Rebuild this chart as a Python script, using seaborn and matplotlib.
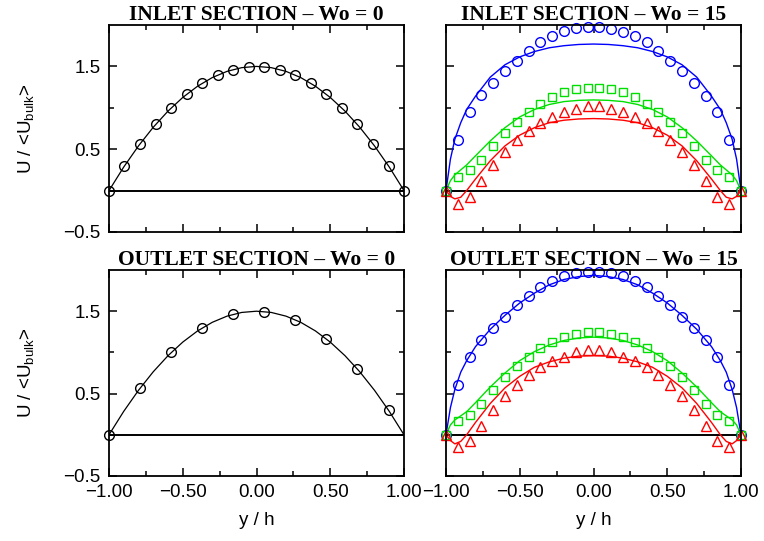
import matplotlib
matplotlib.use("Agg")
import matplotlib.pyplot as plt
import seaborn as sns
import pandas as pd
from matplotlib.ticker import FixedLocator

sns.set_style("ticks")
plt.rcParams["font.family"] = ["Liberation Sans", "DejaVu Sans"]
plt.rcParams["mathtext.fontset"] = "custom"
plt.rcParams["mathtext.rm"] = "Liberation Sans"
plt.rcParams["mathtext.it"] = "Liberation Sans:italic"
plt.rcParams["axes.unicode_minus"] = True
plt.rcParams["text.color"] = "black"
plt.rcParams["axes.labelcolor"] = "black"

# ---------------- data ----------------
titles = ["INLET SECTION \u2013 Wo = 0", "INLET SECTION \u2013 Wo = 15",
          "OUTLET SECTION \u2013 Wo = 0", "OUTLET SECTION \u2013 Wo = 15"]
xtick_vals = [-1.0, -0.5, 0.0, 0.5, 1.0]
xtick_labels = ["\u22121.00", "\u22120.50", "0.00", "0.50", "1.00"]
ytick_vals = [-0.5, 0.5, 1.5]
ytick_labels = ["\u22120.5", "0.5", "1.5"]

# Wo = 0
y_line0 = [-1.0, -0.9, -0.8, -0.7, -0.6, -0.5, -0.4, -0.3, -0.2, -0.1, 0.0,
           0.1, 0.2, 0.3, 0.4, 0.5, 0.6, 0.7, 0.8, 0.9, 1.0]
u_line0 = [0, 0.285, 0.54, 0.765, 0.96, 1.125, 1.26, 1.365, 1.44, 1.485, 1.5,
           1.485, 1.44, 1.365, 1.26, 1.125, 0.96, 0.765, 0.54, 0.285, 0]
y_in0 = [-1.0, -0.895, -0.789, -0.684, -0.579, -0.474, -0.368, -0.263, -0.158, -0.053,
         0.053, 0.158, 0.263, 0.368, 0.474, 0.579, 0.684, 0.789, 0.895, 1.0]
u_in0 = [0, 0.30, 0.565, 0.80, 1.0, 1.165, 1.295, 1.395, 1.46, 1.495,
         1.495, 1.46, 1.395, 1.295, 1.165, 1.0, 0.80, 0.565, 0.30, 0]
y_out0 = [-1.0, -0.789, -0.579, -0.368, -0.158, 0.053, 0.263, 0.474, 0.684, 0.895]
u_out0 = [0, 0.565, 1.0, 1.295, 1.46, 1.495, 1.395, 1.165, 0.80, 0.30]

# Wo = 15 : markers
y_pts15 = [-1.0, -0.92, -0.84, -0.76, -0.68, -0.6, -0.52, -0.44, -0.36, -0.28, -0.2, -0.12, -0.04,
           0.04, 0.12, 0.2, 0.28, 0.36, 0.44, 0.52, 0.6, 0.68, 0.76, 0.84, 0.92, 1.0]
in_blue_pts = [0, 0.61, 0.95, 1.15, 1.30, 1.445, 1.57, 1.69, 1.79, 1.865, 1.925, 1.96, 1.98,
               1.98, 1.955, 1.92, 1.865, 1.79, 1.69, 1.57, 1.445, 1.30, 1.14, 0.95, 0.61, 0]
in_green_pts = [0, 0.17, 0.245, 0.37, 0.54, 0.695, 0.83, 0.95, 1.05, 1.13, 1.19, 1.225, 1.245,
                1.245, 1.225, 1.19, 1.13, 1.05, 0.95, 0.83, 0.695, 0.54, 0.37, 0.245, 0.17, 0]
in_red_pts = [0, -0.16, -0.075, 0.12, 0.31, 0.47, 0.61, 0.72, 0.82, 0.89, 0.95, 0.99, 1.02,
              1.02, 0.99, 0.95, 0.89, 0.82, 0.72, 0.61, 0.47, 0.31, 0.12, -0.075, -0.16, 0]
out_blue_pts = [0, 0.61, 0.95, 1.15, 1.30, 1.435, 1.58, 1.69, 1.79, 1.865, 1.925, 1.96, 1.98,
                1.98, 1.965, 1.925, 1.865, 1.79, 1.69, 1.58, 1.435, 1.30, 1.15, 0.95, 0.61, 0]
out_green_pts = [0, 0.17, 0.245, 0.375, 0.545, 0.70, 0.835, 0.95, 1.05, 1.13, 1.185, 1.225, 1.25,
                 1.25, 1.225, 1.185, 1.13, 1.05, 0.95, 0.835, 0.70, 0.545, 0.375, 0.245, 0.17, 0]
out_red_pts = [0, -0.15, -0.08, 0.11, 0.305, 0.47, 0.61, 0.725, 0.825, 0.895, 0.95, 1.0, 1.025,
               1.025, 1.0, 0.95, 0.895, 0.825, 0.725, 0.61, 0.47, 0.305, 0.11, -0.08, -0.15, 0]

# Wo = 15 : lines
y_line15 = [-1.0, -0.97, -0.94, -0.9, -0.86, -0.8, -0.7, -0.6, -0.5, -0.4, -0.3, -0.2, -0.1, 0.0,
            0.1, 0.2, 0.3, 0.4, 0.5, 0.6, 0.7, 0.8, 0.86, 0.9, 0.94, 0.97, 1.0]
in_blue_line = [0, 0.38, 0.62, 0.82, 0.98, 1.14, 1.37, 1.52, 1.615, 1.68, 1.725, 1.75, 1.765, 1.77,
                1.765, 1.75, 1.725, 1.68, 1.615, 1.52, 1.37, 1.14, 0.98, 0.82, 0.62, 0.38, 0]
in_green_line = [0, 0.12, 0.19, 0.25, 0.31, 0.42, 0.60, 0.76, 0.89, 0.98, 1.04, 1.075, 1.09, 1.095,
                 1.09, 1.075, 1.04, 0.98, 0.89, 0.76, 0.60, 0.42, 0.31, 0.25, 0.19, 0.12, 0]
in_red_line = [0, -0.07, -0.10, -0.08, 0.0, 0.14, 0.36, 0.54, 0.67, 0.76, 0.82, 0.85, 0.865, 0.87,
               0.865, 0.85, 0.82, 0.76, 0.67, 0.54, 0.36, 0.14, 0.0, -0.08, -0.10, -0.07, 0]
out_blue_line = [0, 0.33, 0.55, 0.76, 0.90, 1.07, 1.28, 1.45, 1.60, 1.72, 1.82, 1.885, 1.92, 1.935,
                 1.92, 1.885, 1.82, 1.72, 1.60, 1.45, 1.28, 1.07, 0.90, 0.76, 0.55, 0.33, 0]
out_green_line = [0, 0.12, 0.18, 0.23, 0.28, 0.39, 0.58, 0.75, 0.90, 1.01, 1.09, 1.145, 1.175, 1.185,
                  1.175, 1.145, 1.09, 1.01, 0.90, 0.75, 0.58, 0.39, 0.28, 0.23, 0.18, 0.12, 0]
out_red_line = [0, -0.07, -0.11, -0.08, 0.0, 0.15, 0.38, 0.57, 0.71, 0.82, 0.885, 0.93, 0.955, 0.96,
                0.955, 0.93, 0.885, 0.82, 0.71, 0.57, 0.38, 0.15, 0.0, -0.08, -0.11, -0.07, 0]

BLUE, GREEN, RED = "#0000ff", "#00e000", "#ff0000"

# ---------------- figure ----------------
fig = plt.figure(figsize=(7.64, 5.41), dpi=100)
W, H = 764, 541
def rect(x0, y0, x1, y1):
    return [x0 / W, 1 - y1 / H, (x1 - x0) / W, (y1 - y0) / H]

ax_tl = fig.add_axes(rect(109, 25, 404, 232))
ax_tr = fig.add_axes(rect(446, 25, 741, 232))
ax_bl = fig.add_axes(rect(109, 270, 404, 476))
ax_br = fig.add_axes(rect(446, 270, 741, 476))


def line(ax, x, y, color, lw=1.0):
    sns.lineplot(x=x, y=y, ax=ax, color=color, lw=lw, sort=False, estimator=None)


def pts(ax, x, y, color, marker, ms):
    sns.lineplot(x=x, y=y, ax=ax, color=color, linestyle="none", marker=marker,
                 markersize=ms, markerfacecolor="none", markeredgecolor=color,
                 markeredgewidth=1.0, sort=False, estimator=None, clip_on=False)


def style(ax, title, xlabels, ylabels):
    ax.axhline(0, color="black", lw=1.4, zorder=1)
    ax.set_xlim(-1.0, 1.0)
    ax.set_ylim(-0.5, 2.0)
    ax.xaxis.set_major_locator(FixedLocator(xtick_vals))
    ax.xaxis.set_minor_locator(FixedLocator([-0.75, -0.25, 0.25, 0.75]))
    ax.yaxis.set_major_locator(FixedLocator(ytick_vals))
    ax.yaxis.set_minor_locator(FixedLocator([0.0, 1.0]))
    ax.set_xticklabels(xtick_labels if xlabels else [])
    ax.set_yticklabels(ytick_labels if ylabels else [])
    ax.tick_params(which="both", direction="in", top=True, right=True, colors="black",
                   labelcolor="black", labelsize=13.5, width=1.1)
    ax.tick_params(which="major", length=6, pad=6)
    ax.tick_params(which="minor", length=3.5)
    for s in ax.spines.values():
        s.set_visible(True)
        s.set_color("black")
        s.set_linewidth(1.3)
    ax.set_title(title, family="Liberation Serif", fontweight="bold", fontsize=15.5,
                 pad=3, color="black")
    ax.set_xlabel("")
    ax.set_ylabel("")


# Wo = 0 panels
line(ax_tl, y_line0, u_line0, "black", lw=0.9)
pts(ax_tl, y_in0, u_in0, "black", "o", 7)
line(ax_bl, y_line0, u_line0, "black", lw=0.9)
pts(ax_bl, y_out0, u_out0, "black", "o", 7)

# Wo = 15 panels
for ax, lines_, pts_ in [
    (ax_tr, (in_blue_line, in_green_line, in_red_line), (in_blue_pts, in_green_pts, in_red_pts)),
    (ax_br, (out_blue_line, out_green_line, out_red_line), (out_blue_pts, out_green_pts, out_red_pts)),
]:
    for yl, c in zip(lines_, (BLUE, GREEN, RED)):
        line(ax, y_line15, yl, c)
    pts(ax, y_pts15, pts_[0], BLUE, "o", 7)
    pts(ax, y_pts15, pts_[1], GREEN, "s", 6)
    pts(ax, y_pts15, pts_[2], RED, "^", 7)

style(ax_tl, titles[0], False, True)
style(ax_tr, titles[1], False, False)
style(ax_bl, titles[2], True, True)
style(ax_br, titles[3], True, False)

ylab = "U / <U$_{\\rm bulk}$>"
for ax in (ax_tl, ax_bl):
    ax.set_ylabel(ylab, fontsize=13.5, labelpad=20, color="black")
for ax in (ax_bl, ax_br):
    ax.set_xlabel("y / h", fontsize=13.5, labelpad=8, color="black")

fig.savefig("out.png", dpi=100)
